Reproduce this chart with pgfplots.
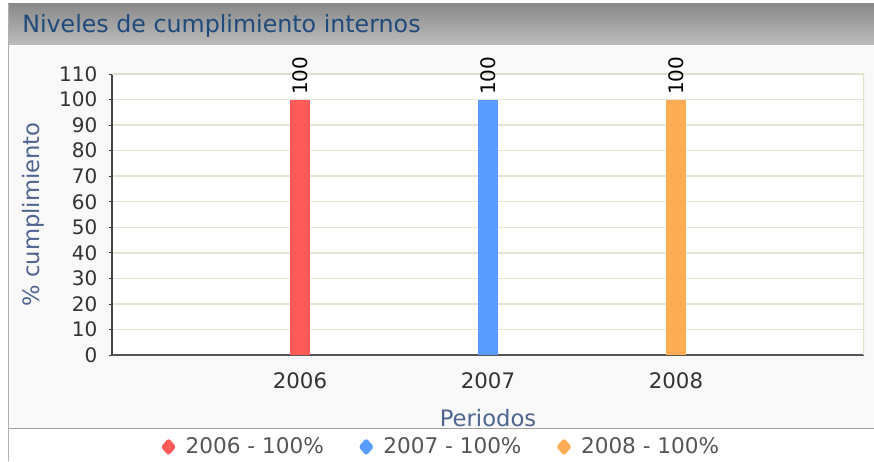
\documentclass[border=0pt]{standalone}
\usepackage{fontspec}
\setmainfont{DejaVu Sans}
\usepackage{pgfplots}
\pgfplotsset{compat=1.18}
\pgfkeys{/pgf/number format/assume math mode=true}
\definecolor{titleblue}{HTML}{1F4A7C}
\definecolor{labelblue}{HTML}{4F6490}
\definecolor{tickgray}{HTML}{333333}
\definecolor{leggray}{HTML}{555555}
\definecolor{gridc}{HTML}{E2E5D3}
\definecolor{framec}{HTML}{DDE2CA}
\definecolor{bodybg}{HTML}{F9F9F9}
\definecolor{cred}{HTML}{FF5A5A}
\definecolor{cblue}{HTML}{5A9BFF}
\definecolor{corange}{HTML}{FFAD55}
\begin{document}
\begin{tikzpicture}[x=0.75pt,y=0.75pt]
\useasboundingbox (0,0) rectangle (874,461);
\fill[white] (0,0) rectangle (874,461);
\fill[bodybg] (8,33) rectangle (874,416);
\shade[top color={rgb,255:red,138;green,138;blue,138}, bottom color={rgb,255:red,188;green,188;blue,188}] (8,416) rectangle (874,457);
\draw[line width=1.1pt, color={rgb,255:red,160;green,160;blue,160}] (8,32.5) -- (874,32.5);
\draw[line width=1.1pt, color={rgb,255:red,176;green,176;blue,176}] (8.5,0) -- (8.5,457);
\node[anchor=base west, inner sep=0pt, text=titleblue, font=\fontsize{17.8pt}{20pt}\selectfont] at (22,428) {Niveles de cumplimiento internos};
\begin{axis}[
  at={(84pt,79.5pt)}, anchor=south west,
  scale only axis, width=564pt, height=210.75pt,
  xmin=-1, xmax=3, ymin=0, ymax=110,
  xtick={0,1,2}, xticklabels={2006,2007,2008},
  ytick={0,10,...,110},
  axis x line*=bottom, axis y line*=left,
  x axis line style={draw={rgb,255:red,85;green,85;blue,85}, line width=1.5pt, -},
  y axis line style={draw={rgb,255:red,68;green,68;blue,68}, line width=1pt, -},
  major x tick style={draw=none},
  major y tick style={draw={rgb,255:red,68;green,68;blue,68}, line width=0.6pt},
  tick align=outside, major tick length=2.5pt,
  ymajorgrids, major grid style={gridc, line width=1.1pt},
  axis background/.style={fill=white},
  x tick label style={font=\fontsize{16pt}{19pt}\selectfont, text=tickgray, yshift=-7.5pt},
  y tick label style={font=\fontsize{15pt}{18pt}\selectfont, text=tickgray, xshift=-5pt},
  xlabel={Periodos}, ylabel={\% cumplimiento},
  xlabel style={at={(axis description cs:0.5,-0.225)}, anchor=center, text=labelblue, font=\fontsize{17pt}{20pt}\selectfont},
  ylabel style={at={(axis description cs:-0.105,0.5)}, anchor=center, text=labelblue, font=\fontsize{17pt}{20pt}\selectfont},
  ybar, bar width=15pt, bar shift=0pt,
  nodes near coords,
  every node near coord/.append style={rotate=90, anchor=west, font=\fontsize{15pt}{18pt}\selectfont, text=black},
  legend style={at={(axis description cs:0.438,-0.327)}, anchor=center, draw=none, fill=none,
    legend columns=-1, font=\fontsize{16.2pt}{19pt}\selectfont, text=leggray,
    /tikz/every odd column/.append style={column sep=5pt},
    /tikz/every even column/.append style={column sep=24pt}},
  legend image code/.code={\fill[#1, draw=none, rounded corners=2pt] (0,6.6pt)--(5.8pt,0)--(0,-6.6pt)--(-5.8pt,0)--cycle;},
]
\addplot[fill=cred, draw=none] coordinates {(0,100)};
\addplot[fill=cblue, draw=none] coordinates {(1,100)};
\addplot[fill=corange, draw=none] coordinates {(2,100)};
\legend{2006 - 100\%, 2007 - 100\%, 2008 - 100\%}
\draw[framec, line width=1.5pt] (rel axis cs:0,1) -- (rel axis cs:1,1) -- (rel axis cs:1,0);
\end{axis}
\end{tikzpicture}
\end{document}
